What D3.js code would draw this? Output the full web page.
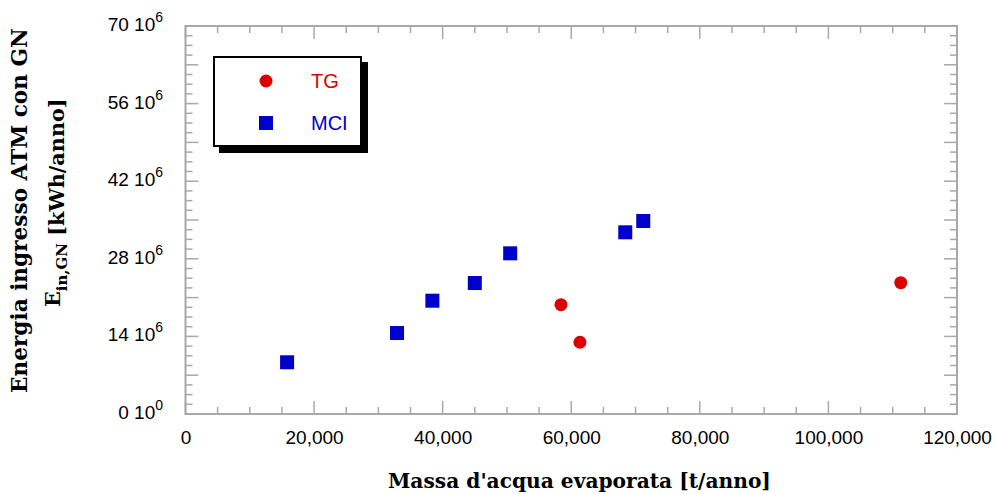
<!DOCTYPE html>
<html><head><meta charset="utf-8">
<script src="https://cdn.jsdelivr.net/npm/d3@7"></script>
<style>body{margin:0;background:#fff}svg{display:block}</style>
</head><body>
<svg id="c" width="996" height="494"></svg>
<script>
const seriesNames = ["TG", "MCI"];
const tgX = [58400, 61350, 111250];
const tgY = [19.72e6, 12.94e6, 23.69e6];
const mciX = [15800, 32900, 38400, 45000, 50500, 68400, 71200];
const mciY = [9.33e6, 14.61e6, 20.44e6, 23.63e6, 28.99e6, 32.78e6, 34.82e6];
const xTickValues = [0, 20000, 40000, 60000, 80000, 100000, 120000];
const xTickLabels = ["0", "20,000", "40,000", "60,000", "80,000", "100,000", "120,000"];
const yTickMant = ["0", "14", "28", "42", "56", "70"];
const yTickExp = ["0", "6", "6", "6", "6", "6"];
const yTickValues = [0, 14e6, 28e6, 42e6, 56e6, 70e6];
const xTitle = "Massa d'acqua evaporata [t/anno]";
const yTitle1 = "Energia ingresso ATM con GN";
const yTitleSym = "E", yTitleSub = "in,GN", yTitleUnit = "[kWh/anno]";

const svg = d3.select("#c");
const L = 185.5, R = 957, T = 26, B = 414;
const x = d3.scaleLinear().domain([0, 120000]).range([L, R]);
const y = d3.scaleLinear().domain([0, 70e6]).range([B, T]);
const axisColor = "#a8a8a8";
const red = "#dd0000", blue = "#0000cc";
const serif = "DejaVu Serif, serif";
const sans = "Liberation Sans, Arial, sans-serif";

// ticks
const g = svg.append("g");
const xMinor = d3.range(0, 120001, 5000);
const yMinor = d3.range(0, 70e6 + 1, 1.75e6);
xMinor.forEach(v => {
  const long = v % 20000 === 0 ? 13 : 7;
  g.append("line").attr("x1", x(v)).attr("x2", x(v)).attr("y1", B).attr("y2", B - long)
    .attr("stroke", axisColor).attr("stroke-width", 1.5);
  g.append("line").attr("x1", x(v)).attr("x2", x(v)).attr("y1", T).attr("y2", T + long)
    .attr("stroke", axisColor).attr("stroke-width", 1.5);
});
yMinor.forEach(v => {
  const long = Math.abs(v / 7e6 - Math.round(v / 7e6)) < 1e-9 ? 13 : 7;
  g.append("line").attr("y1", y(v)).attr("y2", y(v)).attr("x1", L).attr("x2", L + long)
    .attr("stroke", axisColor).attr("stroke-width", 1.5);
  g.append("line").attr("y1", y(v)).attr("y2", y(v)).attr("x1", R).attr("x2", R - long)
    .attr("stroke", axisColor).attr("stroke-width", 1.5);
});
g.append("rect").attr("x", L).attr("y", T).attr("width", R - L).attr("height", B - T)
  .attr("fill", "none").attr("stroke", axisColor).attr("stroke-width", 2);

// x tick labels via axis
const xAxis = d3.axisBottom(x).tickValues(xTickValues).tickSize(0).tickPadding(0)
  .tickFormat((d, i) => xTickLabels[i]);
const xa = svg.append("g").attr("transform", `translate(0,${B + 16})`).call(xAxis);
xa.select(".domain").remove();
xa.selectAll("text").attr("font-family", sans).attr("font-size", 19).attr("fill", "#000");

// y tick labels
const ya = svg.append("g");
yTickValues.forEach((v, i) => {
  const t = ya.append("text").attr("x", 163).attr("y", y(v) + 5)
    .attr("text-anchor", "end").attr("font-family", sans)
    .attr("font-size", 19).attr("fill", "#000");
  t.append("tspan").text(yTickMant[i] + " 10");
  t.append("tspan").attr("font-size", 14).attr("dy", -9).text(yTickExp[i]);
});

// data
svg.append("g").selectAll("rect").data(mciX.map((d, i) => [d, mciY[i]])).join("rect")
  .attr("x", d => x(d[0]) - 7).attr("y", d => y(d[1]) - 7).attr("width", 14).attr("height", 14)
  .attr("fill", blue);
svg.append("g").selectAll("circle").data(tgX.map((d, i) => [d, tgY[i]])).join("circle")
  .attr("cx", d => x(d[0])).attr("cy", d => y(d[1])).attr("r", 6.5).attr("fill", red);

// legend
const lg = svg.append("g");
lg.append("rect").attr("x", 219).attr("y", 62).attr("width", 149).attr("height", 91).attr("fill", "#000");
lg.append("rect").attr("x", 214).attr("y", 57).attr("width", 147).attr("height", 89)
  .attr("fill", "#fff").attr("stroke", "#000").attr("stroke-width", 2);
lg.append("circle").attr("cx", 266).attr("cy", 81).attr("r", 6.5).attr("fill", red);
lg.append("rect").attr("x", 259).attr("y", 116).attr("width", 14).attr("height", 14).attr("fill", blue);
lg.append("text").attr("x", 311).attr("y", 88).attr("font-family", sans)
  .attr("font-size", 20).attr("fill", red).text(seriesNames[0]);
lg.append("text").attr("x", 311).attr("y", 130).attr("font-family", sans)
  .attr("font-size", 20).attr("fill", blue).text(seriesNames[1]);

// fit a text to a target width by adjusting its font size
function fit(sel, target) {
  const w = sel.node().getComputedTextLength();
  const fs = parseFloat(sel.attr("font-size"));
  sel.attr("font-size", fs * target / w);
  return fs * target / w;
}

// x title
const xt = svg.append("text").attr("x", 388).attr("y", 488)
  .attr("font-family", serif).attr("font-weight", "bold").attr("font-size", 20).text(xTitle);
fit(xt, 383);

// y title
const yt = svg.append("g").attr("transform", "rotate(-90)");
const l1 = yt.append("text").attr("x", -393).attr("y", 27)
  .attr("font-family", serif).attr("font-weight", "bold").attr("font-size", 20).text(yTitle1);
const fs1 = fit(l1, 365);
const fs2 = fs1 * 0.96;
const t2 = yt.append("text").attr("x", -307).attr("y", 59.5)
  .attr("font-family", serif).attr("font-weight", "bold").attr("font-size", fs2);
t2.append("tspan").text(yTitleSym);
t2.append("tspan").attr("font-size", fs2 * 0.72).attr("dy", 7).text(yTitleSub);
t2.append("tspan").attr("dy", -2.5).text(" " + yTitleUnit);
</script>
</body></html>
